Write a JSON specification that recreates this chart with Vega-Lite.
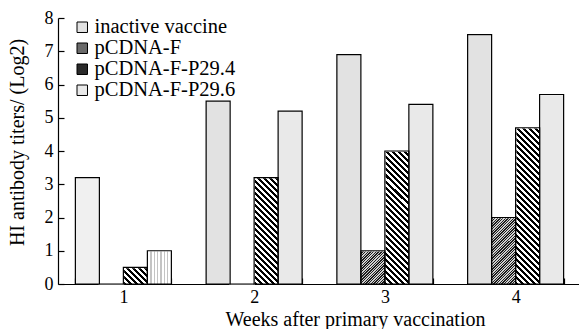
{
  "$schema": "https://vega.github.io/schema/vega-lite/v6.json",
  "width": 523,
  "height": 266,
  "autosize": {"type": "none"},
  "padding": {"left": 58, "top": 18, "right": 0, "bottom": 45},
  "background": "white",
  "config": {
    "view": {"stroke": null},
    "font": "Liberation Serif",
    "axis": {
      "labelFont": "Liberation Serif",
      "labelFontSize": 18,
      "labelColor": "#000",
      "titleFont": "Liberation Serif",
      "titleFontSize": 20,
      "titleFontWeight": "normal",
      "titleColor": "#000",
      "domainColor": "#000",
      "domainWidth": 1.2,
      "tickColor": "#000",
      "tickWidth": 1.2,
      "grid": false,
      "zindex": 1
    },
    "legend": {
      "labelFont": "Liberation Serif",
      "labelFontSize": 20.5,
      "labelColor": "#000"
    }
  },
  "data": {
    "values": [
      {"week": 1, "series": "inactive vaccine", "value": 3.2},
      {"week": 1, "series": "pCDNA-F", "value": 0},
      {"week": 1, "series": "pCDNA-F-P29.4", "value": 0.5},
      {"week": 1, "series": "pCDNA-F-P29.6", "value": 1.0},
      {"week": 2, "series": "inactive vaccine", "value": 5.5},
      {"week": 2, "series": "pCDNA-F", "value": 0},
      {"week": 2, "series": "pCDNA-F-P29.4", "value": 3.2},
      {"week": 2, "series": "pCDNA-F-P29.6", "value": 5.2},
      {"week": 3, "series": "inactive vaccine", "value": 6.9},
      {"week": 3, "series": "pCDNA-F", "value": 1.0},
      {"week": 3, "series": "pCDNA-F-P29.4", "value": 4.0},
      {"week": 3, "series": "pCDNA-F-P29.6", "value": 5.4},
      {"week": 4, "series": "inactive vaccine", "value": 7.5},
      {"week": 4, "series": "pCDNA-F", "value": 2.0},
      {"week": 4, "series": "pCDNA-F-P29.4", "value": 4.7},
      {"week": 4, "series": "pCDNA-F-P29.6", "value": 5.7}
    ]
  },
  "encoding": {
    "x": {
      "field": "week",
      "type": "ordinal",
      "scale": {"paddingInner": 0.2658, "paddingOuter": 0.1329},
      "axis": {
        "title": "Weeks after primary vaccination",
        "labelAngle": 0,
        "grid": false,
        "tickBand": "extent",
        "tickSize": -6,
        "labelPadding": 10,
        "titleX": 297,
        "titleY": 41,
        "titleAlign": "center",
        "titleBaseline": "alphabetic"
      }
    },
    "xOffset": {
      "field": "series",
      "type": "nominal",
      "sort": ["inactive vaccine", "pCDNA-F", "pCDNA-F-P29.4", "pCDNA-F-P29.6"],
      "scale": {"paddingInner": 0, "paddingOuter": 0}
    }
  },
  "layer": [
    {
      "mark": {"type": "bar", "strokeWidth": 0},
      "encoding": {
        "y": {
          "datum": 8,
          "type": "quantitative",
          "scale": {"domain": [0, 8], "nice": false},
          "axis": {
            "title": "HI antibody titers/ (Log2)",
            "values": [0, 1, 2, 3, 4, 5, 6, 7, 8],
            "grid": false,
            "tickSize": -6,
            "labelPadding": 11,
            "titleAngle": 270,
            "titleX": -34.5,
            "titleY": 124,
            "titleAlign": "center",
            "titleBaseline": "alphabetic"
          }
        },
        "y2": {"datum": 0},
        "fill": {
          "field": "series",
          "type": "nominal",
          "scale": {
            "domain": ["inactive vaccine", "pCDNA-F", "pCDNA-F-P29.4", "pCDNA-F-P29.6"],
            "range": ["#e2e2e2", "#6a6a6a", "#2a2a2a", "#e9e9e9"]
          },
          "legend": {
            "orient": "none",
            "legendX": 14,
            "legendY": -1,
            "title": null,
            "symbolType": "square",
            "symbolSize": 110,
            "symbolStrokeColor": "#000",
            "symbolStrokeWidth": 1,
            "symbolOpacity": 1,
            "labelOffset": 2,
            "rowPadding": -3
          },
          "condition": [
            {
              "test": "datum.series === 'pCDNA-F-P29.4'",
              "value": {
                "gradient": "linear", "x1": 0, "y1": 1, "x2": 0.101, "y2": -0.12,
                "stops": [
                  {"offset": 0, "color": "#000"}, {"offset": 0.01, "color": "#000"}, {"offset": 0.01, "color": "#fff"}, {"offset": 0.02, "color": "#fff"},
                  {"offset": 0.02, "color": "#000"}, {"offset": 0.03, "color": "#000"}, {"offset": 0.03, "color": "#fff"}, {"offset": 0.04, "color": "#fff"},
                  {"offset": 0.04, "color": "#000"}, {"offset": 0.05, "color": "#000"}, {"offset": 0.05, "color": "#fff"}, {"offset": 0.06, "color": "#fff"},
                  {"offset": 0.06, "color": "#000"}, {"offset": 0.07, "color": "#000"}, {"offset": 0.07, "color": "#fff"}, {"offset": 0.08, "color": "#fff"},
                  {"offset": 0.08, "color": "#000"}, {"offset": 0.09, "color": "#000"}, {"offset": 0.09, "color": "#fff"}, {"offset": 0.10, "color": "#fff"},
                  {"offset": 0.10, "color": "#000"}, {"offset": 0.11, "color": "#000"}, {"offset": 0.11, "color": "#fff"}, {"offset": 0.12, "color": "#fff"},
                  {"offset": 0.12, "color": "#000"}, {"offset": 0.13, "color": "#000"}, {"offset": 0.13, "color": "#fff"}, {"offset": 0.14, "color": "#fff"},
                  {"offset": 0.14, "color": "#000"}, {"offset": 0.15, "color": "#000"}, {"offset": 0.15, "color": "#fff"}, {"offset": 0.16, "color": "#fff"},
                  {"offset": 0.16, "color": "#000"}, {"offset": 0.17, "color": "#000"}, {"offset": 0.17, "color": "#fff"}, {"offset": 0.18, "color": "#fff"},
                  {"offset": 0.18, "color": "#000"}, {"offset": 0.19, "color": "#000"}, {"offset": 0.19, "color": "#fff"}, {"offset": 0.20, "color": "#fff"},
                  {"offset": 0.20, "color": "#000"}, {"offset": 0.21, "color": "#000"}, {"offset": 0.21, "color": "#fff"}, {"offset": 0.22, "color": "#fff"},
                  {"offset": 0.22, "color": "#000"}, {"offset": 0.23, "color": "#000"}, {"offset": 0.23, "color": "#fff"}, {"offset": 0.24, "color": "#fff"},
                  {"offset": 0.24, "color": "#000"}, {"offset": 0.25, "color": "#000"}, {"offset": 0.25, "color": "#fff"}, {"offset": 0.26, "color": "#fff"},
                  {"offset": 0.26, "color": "#000"}, {"offset": 0.27, "color": "#000"}, {"offset": 0.27, "color": "#fff"}, {"offset": 0.28, "color": "#fff"},
                  {"offset": 0.28, "color": "#000"}, {"offset": 0.29, "color": "#000"}, {"offset": 0.29, "color": "#fff"}, {"offset": 0.30, "color": "#fff"},
                  {"offset": 0.30, "color": "#000"}, {"offset": 0.31, "color": "#000"}, {"offset": 0.31, "color": "#fff"}, {"offset": 0.32, "color": "#fff"},
                  {"offset": 0.32, "color": "#000"}, {"offset": 0.33, "color": "#000"}, {"offset": 0.33, "color": "#fff"}, {"offset": 0.34, "color": "#fff"},
                  {"offset": 0.34, "color": "#000"}, {"offset": 0.35, "color": "#000"}, {"offset": 0.35, "color": "#fff"}, {"offset": 0.36, "color": "#fff"},
                  {"offset": 0.36, "color": "#000"}, {"offset": 0.37, "color": "#000"}, {"offset": 0.37, "color": "#fff"}, {"offset": 0.38, "color": "#fff"},
                  {"offset": 0.38, "color": "#000"}, {"offset": 0.39, "color": "#000"}, {"offset": 0.39, "color": "#fff"}, {"offset": 0.40, "color": "#fff"},
                  {"offset": 0.40, "color": "#000"}, {"offset": 0.41, "color": "#000"}, {"offset": 0.41, "color": "#fff"}, {"offset": 0.42, "color": "#fff"},
                  {"offset": 0.42, "color": "#000"}, {"offset": 0.43, "color": "#000"}, {"offset": 0.43, "color": "#fff"}, {"offset": 0.44, "color": "#fff"},
                  {"offset": 0.44, "color": "#000"}, {"offset": 0.45, "color": "#000"}, {"offset": 0.45, "color": "#fff"}, {"offset": 0.46, "color": "#fff"},
                  {"offset": 0.46, "color": "#000"}, {"offset": 0.47, "color": "#000"}, {"offset": 0.47, "color": "#fff"}, {"offset": 0.48, "color": "#fff"},
                  {"offset": 0.48, "color": "#000"}, {"offset": 0.49, "color": "#000"}, {"offset": 0.49, "color": "#fff"}, {"offset": 0.50, "color": "#fff"},
                  {"offset": 0.50, "color": "#000"}, {"offset": 0.51, "color": "#000"}, {"offset": 0.51, "color": "#fff"}, {"offset": 0.52, "color": "#fff"},
                  {"offset": 0.52, "color": "#000"}, {"offset": 0.53, "color": "#000"}, {"offset": 0.53, "color": "#fff"}, {"offset": 0.54, "color": "#fff"},
                  {"offset": 0.54, "color": "#000"}, {"offset": 0.55, "color": "#000"}, {"offset": 0.55, "color": "#fff"}, {"offset": 0.56, "color": "#fff"},
                  {"offset": 0.56, "color": "#000"}, {"offset": 0.57, "color": "#000"}, {"offset": 0.57, "color": "#fff"}, {"offset": 0.58, "color": "#fff"},
                  {"offset": 0.58, "color": "#000"}, {"offset": 0.59, "color": "#000"}, {"offset": 0.59, "color": "#fff"}, {"offset": 0.60, "color": "#fff"},
                  {"offset": 0.60, "color": "#000"}, {"offset": 0.61, "color": "#000"}, {"offset": 0.61, "color": "#fff"}, {"offset": 0.62, "color": "#fff"},
                  {"offset": 0.62, "color": "#000"}, {"offset": 0.63, "color": "#000"}, {"offset": 0.63, "color": "#fff"}, {"offset": 0.64, "color": "#fff"}
                ]
              }
            },
            {
              "test": "datum.series === 'pCDNA-F'",
              "value": {
                "gradient": "linear", "x1": 1, "y1": 1, "x2": 0.955, "y2": 0.5,
                "stops": [
                  {"offset": 0, "color": "#1e1e1e"}, {"offset": 0.01, "color": "#1e1e1e"}, {"offset": 0.01, "color": "#cfcfcf"}, {"offset": 0.02, "color": "#cfcfcf"},
                  {"offset": 0.02, "color": "#1e1e1e"}, {"offset": 0.03, "color": "#1e1e1e"}, {"offset": 0.03, "color": "#cfcfcf"}, {"offset": 0.04, "color": "#cfcfcf"},
                  {"offset": 0.04, "color": "#1e1e1e"}, {"offset": 0.05, "color": "#1e1e1e"}, {"offset": 0.05, "color": "#cfcfcf"}, {"offset": 0.06, "color": "#cfcfcf"},
                  {"offset": 0.06, "color": "#1e1e1e"}, {"offset": 0.07, "color": "#1e1e1e"}, {"offset": 0.07, "color": "#cfcfcf"}, {"offset": 0.08, "color": "#cfcfcf"},
                  {"offset": 0.08, "color": "#1e1e1e"}, {"offset": 0.09, "color": "#1e1e1e"}, {"offset": 0.09, "color": "#cfcfcf"}, {"offset": 0.10, "color": "#cfcfcf"},
                  {"offset": 0.10, "color": "#1e1e1e"}, {"offset": 0.11, "color": "#1e1e1e"}, {"offset": 0.11, "color": "#cfcfcf"}, {"offset": 0.12, "color": "#cfcfcf"},
                  {"offset": 0.12, "color": "#1e1e1e"}, {"offset": 0.13, "color": "#1e1e1e"}, {"offset": 0.13, "color": "#cfcfcf"}, {"offset": 0.14, "color": "#cfcfcf"},
                  {"offset": 0.14, "color": "#1e1e1e"}, {"offset": 0.15, "color": "#1e1e1e"}, {"offset": 0.15, "color": "#cfcfcf"}, {"offset": 0.16, "color": "#cfcfcf"},
                  {"offset": 0.16, "color": "#1e1e1e"}, {"offset": 0.17, "color": "#1e1e1e"}, {"offset": 0.17, "color": "#cfcfcf"}, {"offset": 0.18, "color": "#cfcfcf"},
                  {"offset": 0.18, "color": "#1e1e1e"}, {"offset": 0.19, "color": "#1e1e1e"}, {"offset": 0.19, "color": "#cfcfcf"}, {"offset": 0.20, "color": "#cfcfcf"},
                  {"offset": 0.20, "color": "#1e1e1e"}, {"offset": 0.21, "color": "#1e1e1e"}, {"offset": 0.21, "color": "#cfcfcf"}, {"offset": 0.22, "color": "#cfcfcf"},
                  {"offset": 0.22, "color": "#1e1e1e"}, {"offset": 0.23, "color": "#1e1e1e"}, {"offset": 0.23, "color": "#cfcfcf"}, {"offset": 0.24, "color": "#cfcfcf"},
                  {"offset": 0.24, "color": "#1e1e1e"}, {"offset": 0.25, "color": "#1e1e1e"}, {"offset": 0.25, "color": "#cfcfcf"}, {"offset": 0.26, "color": "#cfcfcf"},
                  {"offset": 0.26, "color": "#1e1e1e"}, {"offset": 0.27, "color": "#1e1e1e"}, {"offset": 0.27, "color": "#cfcfcf"}, {"offset": 0.28, "color": "#cfcfcf"},
                  {"offset": 0.28, "color": "#1e1e1e"}, {"offset": 0.29, "color": "#1e1e1e"}, {"offset": 0.29, "color": "#cfcfcf"}, {"offset": 0.30, "color": "#cfcfcf"},
                  {"offset": 0.30, "color": "#1e1e1e"}, {"offset": 0.31, "color": "#1e1e1e"}, {"offset": 0.31, "color": "#cfcfcf"}, {"offset": 0.32, "color": "#cfcfcf"},
                  {"offset": 0.32, "color": "#1e1e1e"}, {"offset": 0.33, "color": "#1e1e1e"}, {"offset": 0.33, "color": "#cfcfcf"}, {"offset": 0.34, "color": "#cfcfcf"},
                  {"offset": 0.34, "color": "#1e1e1e"}, {"offset": 0.35, "color": "#1e1e1e"}, {"offset": 0.35, "color": "#cfcfcf"}, {"offset": 0.36, "color": "#cfcfcf"},
                  {"offset": 0.36, "color": "#1e1e1e"}, {"offset": 0.37, "color": "#1e1e1e"}, {"offset": 0.37, "color": "#cfcfcf"}, {"offset": 0.38, "color": "#cfcfcf"},
                  {"offset": 0.38, "color": "#1e1e1e"}, {"offset": 0.39, "color": "#1e1e1e"}, {"offset": 0.39, "color": "#cfcfcf"}, {"offset": 0.40, "color": "#cfcfcf"},
                  {"offset": 0.40, "color": "#1e1e1e"}, {"offset": 0.41, "color": "#1e1e1e"}, {"offset": 0.41, "color": "#cfcfcf"}, {"offset": 0.42, "color": "#cfcfcf"},
                  {"offset": 0.42, "color": "#1e1e1e"}, {"offset": 0.43, "color": "#1e1e1e"}, {"offset": 0.43, "color": "#cfcfcf"}, {"offset": 0.44, "color": "#cfcfcf"},
                  {"offset": 0.44, "color": "#1e1e1e"}, {"offset": 0.45, "color": "#1e1e1e"}, {"offset": 0.45, "color": "#cfcfcf"}, {"offset": 0.46, "color": "#cfcfcf"},
                  {"offset": 0.46, "color": "#1e1e1e"}, {"offset": 0.47, "color": "#1e1e1e"}, {"offset": 0.47, "color": "#cfcfcf"}, {"offset": 0.48, "color": "#cfcfcf"},
                  {"offset": 0.48, "color": "#1e1e1e"}, {"offset": 0.49, "color": "#1e1e1e"}, {"offset": 0.49, "color": "#cfcfcf"}, {"offset": 0.50, "color": "#cfcfcf"},
                  {"offset": 0.50, "color": "#1e1e1e"}, {"offset": 0.51, "color": "#1e1e1e"}, {"offset": 0.51, "color": "#cfcfcf"}, {"offset": 0.52, "color": "#cfcfcf"},
                  {"offset": 0.52, "color": "#1e1e1e"}, {"offset": 0.53, "color": "#1e1e1e"}, {"offset": 0.53, "color": "#cfcfcf"}, {"offset": 0.54, "color": "#cfcfcf"},
                  {"offset": 0.54, "color": "#1e1e1e"}, {"offset": 0.55, "color": "#1e1e1e"}, {"offset": 0.55, "color": "#cfcfcf"}, {"offset": 0.56, "color": "#cfcfcf"},
                  {"offset": 0.56, "color": "#1e1e1e"}, {"offset": 0.57, "color": "#1e1e1e"}, {"offset": 0.57, "color": "#cfcfcf"}, {"offset": 0.58, "color": "#cfcfcf"},
                  {"offset": 0.58, "color": "#1e1e1e"}, {"offset": 0.59, "color": "#1e1e1e"}, {"offset": 0.59, "color": "#cfcfcf"}, {"offset": 0.60, "color": "#cfcfcf"},
                  {"offset": 0.60, "color": "#1e1e1e"}, {"offset": 0.61, "color": "#1e1e1e"}, {"offset": 0.61, "color": "#cfcfcf"}, {"offset": 0.62, "color": "#cfcfcf"},
                  {"offset": 0.62, "color": "#1e1e1e"}, {"offset": 0.63, "color": "#1e1e1e"}, {"offset": 0.63, "color": "#cfcfcf"}, {"offset": 0.64, "color": "#cfcfcf"},
                  {"offset": 0.64, "color": "#1e1e1e"}, {"offset": 0.65, "color": "#1e1e1e"}, {"offset": 0.65, "color": "#cfcfcf"}, {"offset": 0.66, "color": "#cfcfcf"},
                  {"offset": 0.66, "color": "#1e1e1e"}, {"offset": 0.67, "color": "#1e1e1e"}, {"offset": 0.67, "color": "#cfcfcf"}, {"offset": 0.68, "color": "#cfcfcf"},
                  {"offset": 0.68, "color": "#1e1e1e"}, {"offset": 0.69, "color": "#1e1e1e"}, {"offset": 0.69, "color": "#cfcfcf"}, {"offset": 0.70, "color": "#cfcfcf"}
                ]
              }
            },
            {
              "test": "datum.series === 'pCDNA-F-P29.6' && datum.week === 1",
              "value": {
                "gradient": "linear", "x1": 0, "y1": 0, "x2": 1, "y2": 0,
                "stops": [
                  {"offset": 0, "color": "#fff"}, {"offset": 0.12, "color": "#fff"}, {"offset": 0.12, "color": "#c4c4c4"}, {"offset": 0.18, "color": "#c4c4c4"},
                  {"offset": 0.18, "color": "#fff"}, {"offset": 0.26, "color": "#fff"}, {"offset": 0.26, "color": "#c4c4c4"}, {"offset": 0.32, "color": "#c4c4c4"},
                  {"offset": 0.32, "color": "#fff"}, {"offset": 0.40, "color": "#fff"}, {"offset": 0.40, "color": "#c4c4c4"}, {"offset": 0.46, "color": "#c4c4c4"},
                  {"offset": 0.46, "color": "#fff"}, {"offset": 0.54, "color": "#fff"}, {"offset": 0.54, "color": "#c4c4c4"}, {"offset": 0.60, "color": "#c4c4c4"},
                  {"offset": 0.60, "color": "#fff"}, {"offset": 0.68, "color": "#fff"}, {"offset": 0.68, "color": "#c4c4c4"}, {"offset": 0.74, "color": "#c4c4c4"},
                  {"offset": 0.74, "color": "#fff"}, {"offset": 0.82, "color": "#fff"}, {"offset": 0.82, "color": "#c4c4c4"}, {"offset": 0.88, "color": "#c4c4c4"},
                  {"offset": 0.88, "color": "#fff"}, {"offset": 1, "color": "#fff"}
                ]
              }
            },
            {
              "test": "datum.series === 'inactive vaccine' && datum.week === 1",
              "value": "#f0f0f0"
            }
          ]
        }
      }
    },
    {
      "mark": {"type": "bar", "fill": "white", "stroke": "white", "strokeWidth": 1.5},
      "encoding": {
        "y": {
          "field": "value",
          "type": "quantitative",
          "scale": {"domain": [0, 8], "nice": false},
          "axis": {
            "title": "HI antibody titers/ (Log2)",
            "values": [0, 1, 2, 3, 4, 5, 6, 7, 8],
            "grid": false,
            "tickSize": -6,
            "labelPadding": 11,
            "titleAngle": 270,
            "titleX": -34.5,
            "titleY": 124,
            "titleAlign": "center",
            "titleBaseline": "alphabetic"
          }
        },
        "y2": {"datum": 8}
      }
    },
    {
      "mark": {"type": "bar", "fill": "white", "fillOpacity": 0, "stroke": "#000", "strokeWidth": 1.2},
      "encoding": {
        "y": {
          "field": "value",
          "type": "quantitative",
          "scale": {"domain": [0, 8], "nice": false},
          "axis": {
            "title": "HI antibody titers/ (Log2)",
            "values": [0, 1, 2, 3, 4, 5, 6, 7, 8],
            "grid": false,
            "tickSize": -6,
            "labelPadding": 11,
            "titleAngle": 270,
            "titleX": -34.5,
            "titleY": 124,
            "titleAlign": "center",
            "titleBaseline": "alphabetic"
          }
        }
      }
    }
  ]
}
